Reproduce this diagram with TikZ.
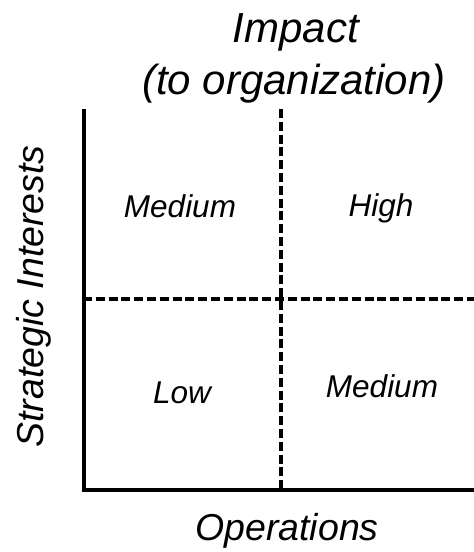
\documentclass[tikz,border=0pt]{standalone}
\usepackage{fontspec}
\setmainfont{Liberation Sans}
\begin{document}
\begin{tikzpicture}[x=1pt,y=-1pt,
  axis/.style={line width=4pt},
  divider/.style={line width=3.8pt, dash pattern=on 9pt off 3.8pt},
  cell/.style={font=\fontsize{31.5}{36}\selectfont\itshape, anchor=base, inner sep=0pt},
  axislabel/.style={font=\fontsize{37.5}{42}\selectfont\itshape, anchor=base, inner sep=0pt},
  titlelabel/.style={font=\fontsize{42}{52}\selectfont\itshape, anchor=base, inner sep=0pt}]
\useasboundingbox (0,0) rectangle (474,552);
% axes
\coordinate (top) at (83.5,109);
\coordinate (origin) at (83.5,489.5);
\coordinate (right) at (474,489.5);
\coordinate (midtop) at (281,109);
\coordinate (midbot) at (281,489);
\coordinate (midleft) at (83,299);
\coordinate (midright) at (474,299);
\draw[divider] (midtop) -- (midbot);
\draw[divider] (midleft) -- (midright);
\draw[axis] (top) -- (origin) -- (right);
% titles
\node[titlelabel] (title1) at (296,42) {Impact};
\node[titlelabel] (title2) at (294,94) {(to organization)};
\node[axislabel] (xlabel) at (287,540) {Operations};
\node[axislabel, rotate=90] (ylabel) at (43,296.5) {Strategic Interests};
% cells
\node[cell] (tl) at (180,217) {Medium};
\node[cell] (tr) at (381,216) {High};
\node[cell] (bl) at (182,403) {Low};
\node[cell] (br) at (382,397) {Medium};
\end{tikzpicture}
\end{document}
